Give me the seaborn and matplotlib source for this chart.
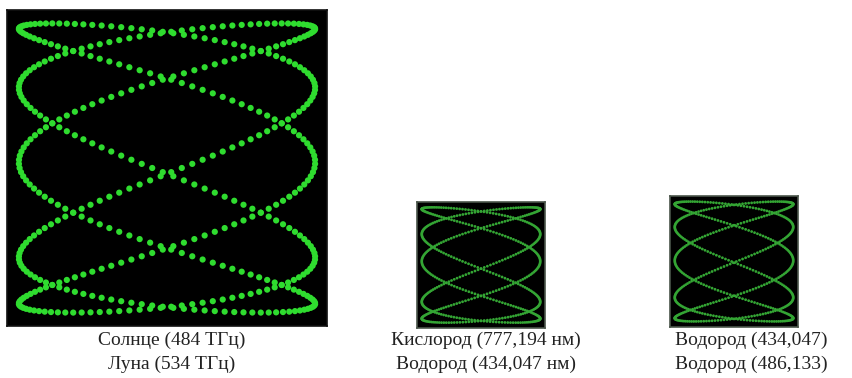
import numpy as np
import pandas as pd
import matplotlib
matplotlib.use("Agg")
import matplotlib.pyplot as plt
import seaborn as sns

# ---- data ----
captions_top = ["Солнце (484 ТГц)", "Кислород (777,194 нм)", "Водород (434,047)"]
captions_bottom = ["Луна (534 ТГц)", "Водород (434,047 нм)", "Водород (486,133)"]
# Lissajous parameters of each screen (x and y oscillation counts, phase, samples)
x_cycles = [5, 5, 5]
y_cycles = [2, 2, 2]
x_phase = [0.1, 0.16, 0.04]
n_samples = [440, 600, 600]

sns.set_theme(style="white")
plt.rcParams['font.family'] = ['Liberation Serif', 'DejaVu Serif']

fig = plt.figure(figsize=(8.53, 3.78), dpi=100)
fig.patch.set_facecolor("white")

rects = [
    [7/853, 1-326/378, 320/853, 316/378],
    [417/853, 1-328/378, 128/853, 126/378],
    [670/853, 1-327/378, 128/853, 131/378],
]
dot_size = [20, 4.0, 4.0]
dot_col = ["#2fdc2f", "#34a534", "#34a534"]
text_x = [172/853, 486/853, 751/853]

for i, r in enumerate(rects):
    ax = fig.add_axes(r)
    ax.set_facecolor("black")
    t = np.linspace(0, 2*np.pi, n_samples[i], endpoint=False)
    x = np.sin(x_cycles[i]*t + x_phase[i])
    y = 0.97*np.sin(y_cycles[i]*t)
    df = pd.DataFrame({"x": x, "y": y})
    sns.scatterplot(data=df, x="x", y="y", ax=ax, s=dot_size[i], color=dot_col[i],
                    edgecolor="none", legend=False)
    ax.set_xlim(-1.08, 1.08)
    ax.set_ylim(-1.06, 1.06)
    ax.set_xticks([]); ax.set_yticks([])
    ax.set_xlabel(""); ax.set_ylabel("")
    for sp in ax.spines.values():
        sp.set_visible(True)
        sp.set_color("#4a554a" if i else "#111111")
        sp.set_linewidth(1.2)
    fig.text(text_x[i], 1-340/378, captions_top[i], ha="center", va="center",
             fontsize=14, color="#222222")
    fig.text(text_x[i], 1-364/378, captions_bottom[i], ha="center", va="center",
             fontsize=14, color="#222222")

fig.savefig("out.png", dpi=100, facecolor="white")
